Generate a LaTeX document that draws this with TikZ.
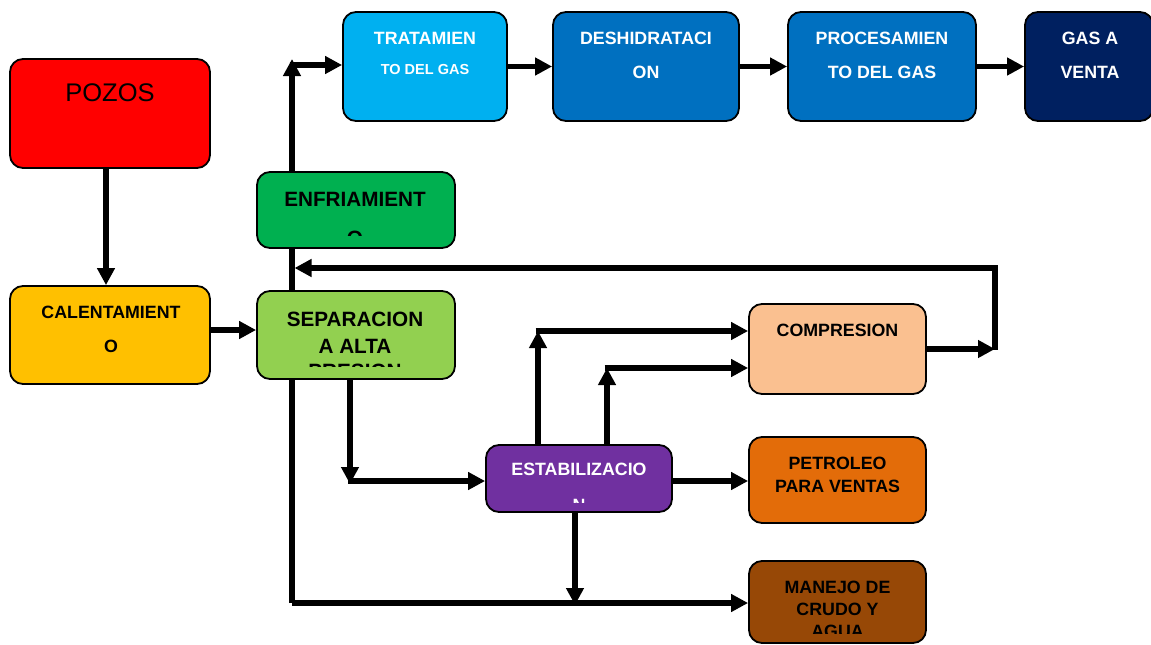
\documentclass[tikz,border=0pt]{standalone}
\usepackage{fontspec}
\setmainfont{Liberation Sans}
\usetikzlibrary{arrows.meta,backgrounds}
\definecolor{cred}{HTML}{FF0000}
\definecolor{camber}{HTML}{FFC000}
\definecolor{cgreen}{HTML}{00B050}
\definecolor{clgreen}{HTML}{92D050}
\definecolor{ccyan}{HTML}{00B0F0}
\definecolor{cblue}{HTML}{0070C0}
\definecolor{cnavy}{HTML}{002060}
\definecolor{cpeach}{HTML}{FAC090}
\definecolor{cpurple}{HTML}{7030A0}
\definecolor{corange}{HTML}{E36C09}
\definecolor{cbrown}{HTML}{974806}
\begin{document}
\begin{tikzpicture}[x=1pt,y=-1pt,
  box/.style={draw=black, line width=1.8pt, rounded corners=13pt, inner sep=0pt},
  txt/.style={font=\bfseries\fontsize{17.8}{20}\selectfont, inner sep=0pt},
  bigtxt/.style={font=\bfseries\fontsize{20.7}{22}\selectfont, inner sep=0pt},
  wtxt/.style={txt, text=white},
  stxt/.style={font=\bfseries\fontsize{14.5}{17}\selectfont, inner sep=0pt, text=white},
  arr/.style={line width=5.4pt, line join=miter, -{Triangle[length=17pt,width=17pt]}}]
\useasboundingbox (0,0) rectangle (1151,645);

% boxes
\node[box, fill=cred, minimum width=200pt, minimum height=109pt] (pozos) at (110,113.5) {};
\node[font=\fontsize{25.5}{28}\selectfont, inner sep=0pt] (tpozos) at (110,93) {POZOS};

\node[box, fill=camber, minimum width=200pt, minimum height=98pt] (calent) at (110,335) {};
\node[txt] (tcal1) at (111,312) {CALENTAMIENT};
\node[txt] (tcal2) at (111,346) {O};

\node[box, fill=cgreen, minimum width=198pt, minimum height=76pt] (enfri) at (356,210) {};
\node[bigtxt] (ten1) at (355,199) {ENFRIAMIENT};
\begin{scope}
  \clip (257,172) rectangle (455,235.5);
  \node[bigtxt] (ten2) at (355,238) {O};
\end{scope}

\node[box, fill=clgreen, minimum width=198pt, minimum height=88pt] (separ) at (356,335) {};
\node[bigtxt] (tsep1) at (355,319) {SEPARACION};
\node[bigtxt] (tsep2) at (355,346) {A ALTA};
\begin{scope}
  \clip (257,291) rectangle (455,366.5);
  \node[bigtxt] (tsep3) at (355,371.5) {PRESION};
\end{scope}

\node[box, fill=ccyan, minimum width=164pt, minimum height=109pt] (trat) at (425,66.5) {};
\node[wtxt] (ttr1) at (425,38) {TRATAMIEN};
\node[stxt] (ttr2) at (425,70) {TO DEL GAS};

\node[box, fill=cblue, minimum width=186pt, minimum height=109pt] (desh) at (646,66.5) {};
\node[wtxt] (tde1) at (646,38) {DESHIDRATACI};
\node[wtxt] (tde2) at (646,72) {ON};

\node[box, fill=cblue, minimum width=188pt, minimum height=109pt] (proc) at (882,66.5) {};
\node[wtxt] (tpr1) at (882,38) {PROCESAMIEN};
\node[wtxt] (tpr2) at (882,72) {TO DEL GAS};

\node[box, fill=cnavy, minimum width=128pt, minimum height=109pt] (gasv) at (1089,66.5) {};
\node[wtxt] (tga1) at (1090,38) {GAS A};
\node[wtxt] (tga2) at (1090,72) {VENTA};

\node[box, fill=cpeach, minimum width=177pt, minimum height=90pt] (compr) at (837.5,349) {};
\node[txt] (tco) at (837.5,330) {COMPRESION};

\node[box, fill=cpurple, minimum width=186pt, minimum height=67pt] (estab) at (579,478.5) {};
\node[wtxt] (tes1) at (579,469) {ESTABILIZACIO};
\begin{scope}
  \clip (486,445) rectangle (672,502);
  \node[wtxt] (tes2) at (579,505.5) {N};
\end{scope}

\node[box, fill=corange, minimum width=177pt, minimum height=86pt] (petro) at (837.5,480) {};
\node[txt] (tpe1) at (837.5,463) {PETROLEO};
\node[txt] (tpe2) at (837.5,486) {PARA VENTAS};

\node[box, fill=cbrown, minimum width=177pt, minimum height=82pt] (manejo) at (837.5,602) {};
\node[txt] (tma1) at (837.5,587) {MANEJO DE};
\node[txt] (tma2) at (837.5,609) {CRUDO Y};
\begin{scope}
  \clip (749,561) rectangle (926,633);
  \node[txt] (tma3) at (837.5,631) {AGUA};
\end{scope}

% connectors
\begin{scope}[on background layer]
  \fill[white] (0,0) rectangle (1151,645);
  \coordinate (vtop) at (292,59);
  \coordinate (vbot) at (292,603);
  \coordinate (vt) at (289.5,65);
  \coordinate (fa) at (995,268);
  \coordinate (fb) at (995,350);
  \coordinate (fl) at (294.5,268);
  \coordinate (sd) at (350,484);
  \coordinate (sh) at (347.5,481);
  \coordinate (u1) at (538,331);
  \coordinate (h1) at (535.5,331);
  \coordinate (u2) at (607,368);
  \coordinate (h2) at (604.5,368);
  \coordinate (ed) at (575,605);

  \draw[arr] ([xshift=-4pt]pozos.south) -- ([xshift=-4pt]calent.north);
  \draw[arr] ([yshift=5pt]calent.east) -- ([yshift=5pt]calent.east -| separ.west);
  \draw[arr] (vbot) -- (vtop);
  \draw[arr] (vt) -- (vt -| trat.west);
  \draw[arr] (trat.east) -- (desh.west);
  \draw[arr] (desh.east) -- (proc.west);
  \draw[arr] (proc.east) -- (gasv.west);
  \draw[arr] (vbot) -- (vbot -| manejo.west);
  \draw[arr] (compr.east) -- (compr.east -| fb);
  \draw[arr] (fb) -- (fa) -- (fl);
  \draw[arr] (separ.south -| sd) -- (sd);
  \draw[arr] (sh) -- (sh -| estab.west);
  \draw[arr] (estab.north -| u1) -- (u1);
  \draw[arr] (h1) -- (h1 -| compr.west);
  \draw[arr] (estab.north -| u2) -- (u2);
  \draw[arr] (h2) -- (h2 -| compr.west);
  \draw[arr] ([yshift=-2.5pt]estab.east) -- ([yshift=-2.5pt]estab.east -| petro.west);
  \draw[arr] (estab.south -| ed) -- (ed);
\end{scope}
\end{tikzpicture}
\end{document}
